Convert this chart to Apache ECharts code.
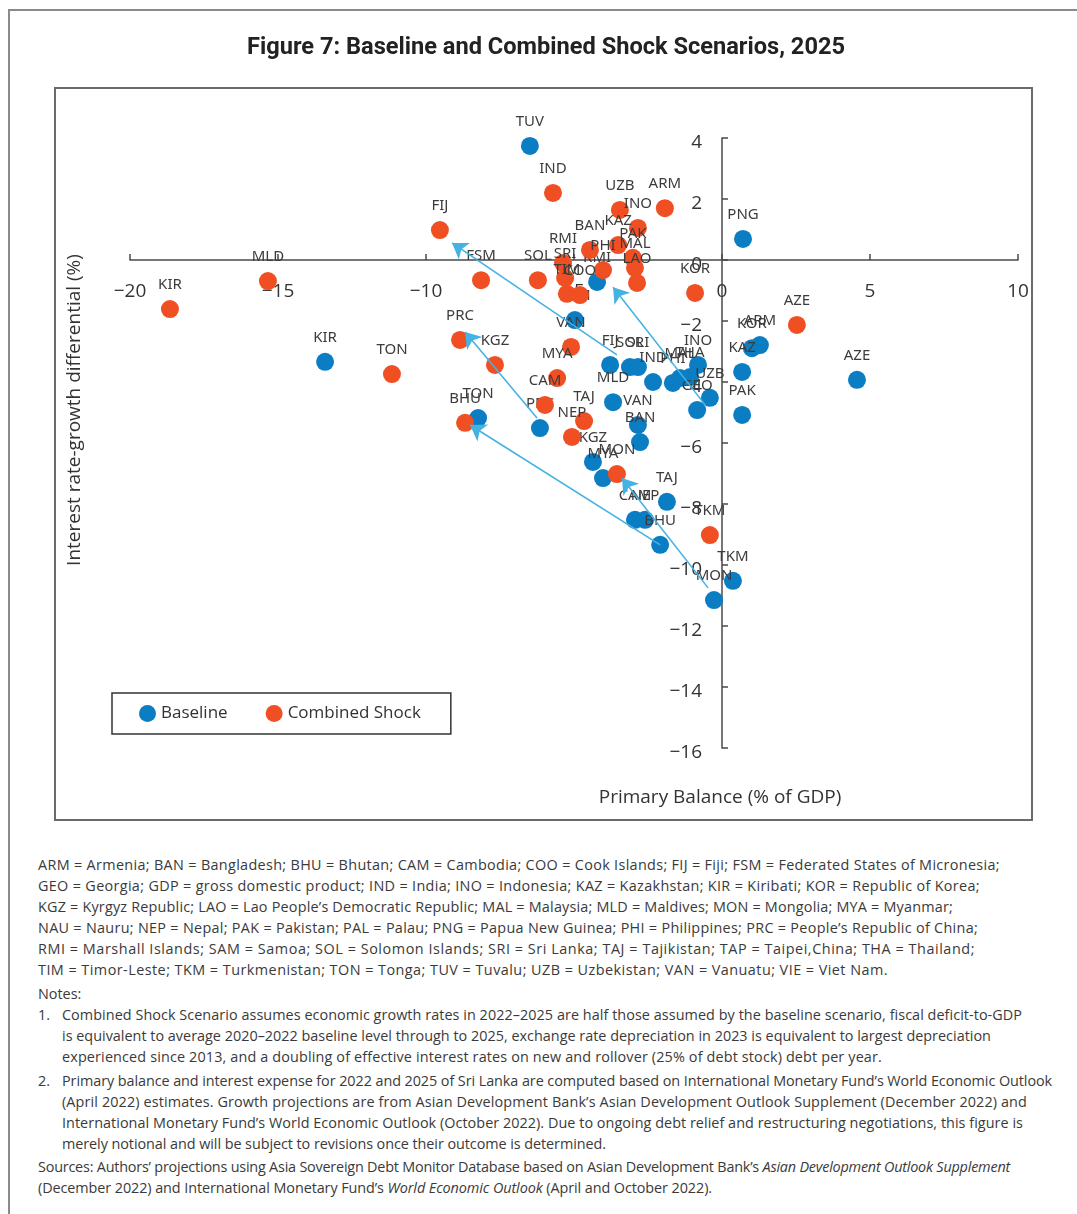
<!DOCTYPE html>
<html><head><meta charset="utf-8">
<script src="https://cdn.jsdelivr.net/npm/echarts@6/dist/echarts.min.js"></script>
<style>
html,body{margin:0;padding:0;background:#fff;width:1077px;height:1214px;overflow:hidden;}
#frame{position:absolute;left:8px;top:9px;width:1100px;height:1300px;border-left:2px solid #8a8a8a;border-top:2px solid #8a8a8a;}
#chart{position:absolute;left:0;top:0;width:1077px;height:840px;}
#notes{position:absolute;left:38px;top:854px;width:1035px;font-family:"Open Sans",sans-serif;font-size:14.4px;line-height:21px;color:#3a3a3a;white-space:nowrap;}
#notes .l{height:21px;}
#notes .ind{padding-left:24px;position:relative;}
#notes .num{position:absolute;left:0;}
#notes .gap{height:3px;}
</style></head>
<body>
<div id="frame"></div>
<div id="chart"></div>
<div id="notes">
<div class="l"><span data-r="1000">ARM = Armenia; BAN = Bangladesh; BHU = Bhutan; CAM = Cambodia; COO = Cook Islands; FIJ = Fiji; FSM = Federated States of Micronesia;</span></div>
<div class="l"><span data-r="980">GEO = Georgia; GDP = gross domestic product; IND = India; INO = Indonesia; KAZ = Kazakhstan; KIR = Kiribati; KOR = Republic of Korea;</span></div>
<div class="l"><span data-r="953">KGZ = Kyrgyz Republic; LAO = Lao People’s Democratic Republic; MAL = Malaysia; MLD = Maldives; MON = Mongolia; MYA = Myanmar;</span></div>
<div class="l"><span data-r="978">NAU = Nauru; NEP = Nepal; PAK = Pakistan; PAL = Palau; PNG = Papua New Guinea; PHI = Philippines; PRC = People’s Republic of China;</span></div>
<div class="l"><span data-r="975">RMI = Marshall Islands; SAM = Samoa; SOL = Solomon Islands; SRI = Sri Lanka; TAJ = Tajikistan; TAP = Taipei,China; THA = Thailand;</span></div>
<div class="l"><span data-r="888">TIM = Timor-Leste; TKM = Turkmenistan; TON = Tonga; TUV = Tuvalu; UZB = Uzbekistan; VAN = Vanuatu; VIE = Viet Nam.</span></div>
<div class="gap"></div>
<div class="l"><span>Notes:</span></div>
<div class="l ind"><span class="num">1.</span><span data-r="1022">Combined Shock Scenario assumes economic growth rates in 2022–2025 are half those assumed by the baseline scenario, fiscal deficit-to-GDP</span></div>
<div class="l ind"><span data-r="991">is equivalent to average 2020–2022 baseline level through to 2025, exchange rate depreciation in 2023 is equivalent to largest depreciation</span></div>
<div class="l ind"><span data-r="882">experienced since 2013, and a doubling of effective interest rates on new and rollover (25% of debt stock) debt per year.</span></div>
<div class="gap"></div>
<div class="l ind"><span class="num">2.</span><span data-r="1052">Primary balance and interest expense for 2022 and 2025 of Sri Lanka are computed based on International Monetary Fund’s World Economic Outlook</span></div>
<div class="l ind"><span data-r="1027">(April 2022) estimates. Growth projections are from Asian Development Bank’s Asian Development Outlook Supplement (December 2022) and</span></div>
<div class="l ind"><span data-r="1023">International Monetary Fund’s World Economic Outlook (October 2022). Due to ongoing debt relief and restructuring negotiations, this figure is</span></div>
<div class="l ind"><span data-r="606">merely notional and will be subject to revisions once their outcome is determined.</span></div>
<div style="height:2px"></div>
<div class="l"><span data-r="1010">Sources: Authors’ projections using Asia Sovereign Debt Monitor Database based on Asian Development Bank’s <i>Asian Development Outlook Supplement</i></span></div>
<div class="l"><span data-r="712">(December 2022) and International Monetary Fund’s <i>World Economic Outlook</i> (April and October 2022).</span></div>
</div>
<script>
// ---- data ----
const baselineCountries = ['TUV','PNG','KIR','AZE','ARM','KOR','KAZ','PAK','INO','MAL','THA','PHI','IND','UZB','GEO','FIJ','SOL','SRI','MLD','VAN','BAN','TON','PRC','SAM','RMI','KGZ','MYA','TAJ','CAM','NEP','BHU','TKM','MON'];
const baselineBalance = [-6.49,0.71,-13.41,4.56,1.28,1.01,0.68,0.68,-0.81,-1.42,-1.08,-1.66,-2.33,-0.41,-0.84,-3.78,-3.11,-2.84,-3.68,-2.84,-2.77,-8.24,-6.15,-4.97,-4.22,-4.36,-4.02,-1.86,-2.94,-2.60,-2.09,0.37,-0.27];
const baselineDifferential = [3.74,0.69,-3.34,-3.93,-2.79,-2.89,-3.67,-5.08,-3.44,-3.87,-3.84,-4.03,-4.00,-4.52,-4.92,-3.44,-3.51,-3.51,-4.66,-5.41,-5.97,-5.18,-5.51,-1.97,-0.72,-6.62,-7.15,-7.93,-8.52,-8.52,-9.34,-10.52,-11.15];

const shockCountries = ['KIR','MLD','FIJ','IND','UZB','ARM','INO','KAZ','BAN','PAK','PHI','MAL','LAO','RMI','SRI','TIM','COO','SOL','FSM','KOR','AZE','TON','PRC','KGZ','VAN','MYA','CAM','BHU','TAJ','NEP','MON','TKM'];
const shockBalance = [-18.65,-15.34,-9.53,-5.71,-3.45,-1.93,-2.84,-3.51,-4.46,-3.01,-4.02,-2.94,-2.87,-5.37,-5.30,-5.24,-4.80,-6.22,-8.14,-0.91,2.53,-11.15,-8.85,-7.67,-5.10,-5.57,-5.98,-8.68,-4.66,-5.07,-3.55,-0.41];
const shockDifferential = [-1.61,-0.69,0.98,2.20,1.64,1.70,1.05,0.49,0.33,0.07,-0.33,-0.26,-0.75,-0.10,-0.59,-1.11,-1.15,-0.66,-0.66,-1.08,-2.13,-3.74,-2.62,-3.44,-2.85,-3.87,-4.75,-5.34,-5.28,-5.80,-7.02,-9.02];

// arrows: from baseline position to combined-shock position
const arrowFrom = [[-3.55,-3.11],[-0.57,-4.75],[-6.25,-5.18],[-2.09,-9.34],[-0.47,-10.75]];
const arrowTo   = [[-9.12,0.56],[-3.68,-0.89],[-8.68,-2.36],[-8.51,-5.41],[-3.38,-7.15]];

const xMin = -20, xMax = 10, xStep = 5;
const yMin = -16, yMax = 4, yStep = 2;

const titleText = 'Figure 7: Baseline and Combined Shock Scenarios, 2025';
const xName = 'Primary Balance (% of GDP)';
const yName = 'Interest rate-growth differential (%)';

// ---- fit note lines to the reference line lengths ----
document.querySelectorAll('#notes [data-r]').forEach(el => {
  const target = +el.dataset.r;
  const r = el.getBoundingClientRect();
  const n = el.textContent.length;
  el.style.letterSpacing = ((target - r.right) / n).toFixed(3) + 'px';
});

// ---- chart ----
const BLUE = '#0b7dc3', ORANGE = '#ef4f23', ARROW = '#45b2e4', AXIS = '#4a4a4a';
const W = 1077, H = 840;
const grid = {left: 130, right: 59, top: 138, bottom: 92};
const gridW = W - grid.left - grid.right, gridH = H - grid.top - grid.bottom;
// axes cross at zero: shift each axis inward to the other axis' zero
const xAxisOffset = -gridH * (0 - yMin) / (yMax - yMin);
const yAxisOffset = -gridW * (0 - xMin) / (xMax - xMin);

const chart = echarts.init(document.getElementById('chart'));
const fmt = v => (v < 0 ? '\u2212' + Math.abs(v) : String(v));
const labelStyle = {show: true, formatter: '{b}', position: 'top', distance: 8,
  fontFamily: 'Noto Sans', fontSize: 15, color: '#3c3c3c'};

chart.setOption({
  animation: false,
  grid: Object.assign({containLabel: false}, grid),
  xAxis: {type: 'value', min: xMin, max: xMax, interval: xStep, position: 'bottom', offset: xAxisOffset,
    axisLine: {onZero: false, lineStyle: {color: AXIS, width: 1.5}},
    axisTick: {inside: true, length: 6, lineStyle: {color: AXIS, width: 1.5}},
    axisLabel: {margin: 22, formatter: fmt, fontFamily: 'Open Sans', fontSize: 19, color: '#333'},
    splitLine: {show: false}},
  yAxis: {type: 'value', min: yMin, max: yMax, interval: yStep, position: 'left', offset: yAxisOffset,
    axisLine: {onZero: false, lineStyle: {color: AXIS, width: 1.5}},
    axisTick: {inside: true, length: 6, lineStyle: {color: AXIS, width: 1.5}},
    axisLabel: {margin: 20, formatter: fmt, fontFamily: 'Open Sans', fontSize: 19, color: '#333',
      verticalAlign: 'top', lineHeight: 10},
    splitLine: {show: false}},
  legend: {data: ['Baseline','Combined Shock'], left: 112, top: 693, icon: 'circle',
    itemWidth: 17, itemHeight: 17, itemGap: 38, padding: [12, 30, 12, 27],
    borderColor: '#333', borderWidth: 1.5,
    textStyle: {fontFamily: 'Open Sans', fontSize: 17, color: '#333'}},
  graphic: [
    {type: 'rect', shape: {x: 55, y: 88, width: 977, height: 732}, style: {fill: 'none', stroke: '#6a6a6a', lineWidth: 2}, silent: true},
    {type: 'text', x: 546, y: 48, style: {text: titleText, textAlign: 'center', textVerticalAlign: 'middle',
      font: 'bold 23.6px "Roboto", sans-serif', fill: '#222'}},
    {type: 'text', x: 720, y: 798, style: {text: xName, textAlign: 'center', textVerticalAlign: 'middle',
      font: '19px "Open Sans", sans-serif', fill: '#333'}},
    {type: 'text', x: 75, y: 410, rotation: Math.PI/2, style: {text: yName, textAlign: 'center', textVerticalAlign: 'middle',
      font: '19px "Open Sans", sans-serif', fill: '#333'}}
  ],
  series: [
    {name: 'Baseline', type: 'scatter', symbolSize: 18, z: 2,
      itemStyle: {color: BLUE, opacity: 1},
      label: labelStyle,
      data: baselineCountries.map((n, i) => ({name: n, value: [baselineBalance[i], baselineDifferential[i]]}))},
    {name: 'Combined Shock', type: 'scatter', symbolSize: 18, z: 3,
      itemStyle: {color: ORANGE, opacity: 1},
      label: labelStyle,
      data: shockCountries.map((n, i) => ({name: n, value: [shockBalance[i], shockDifferential[i]]}))},
    {name: 'arrows', type: 'lines', coordinateSystem: 'cartesian2d', z: 5,
      symbol: ['none', 'arrow'], symbolSize: 15,
      lineStyle: {color: ARROW, width: 1.6, opacity: 1, curveness: 0},
      data: arrowFrom.map((f, i) => ({coords: [f, arrowTo[i]]}))}
  ]
});
</script>
</body></html>
